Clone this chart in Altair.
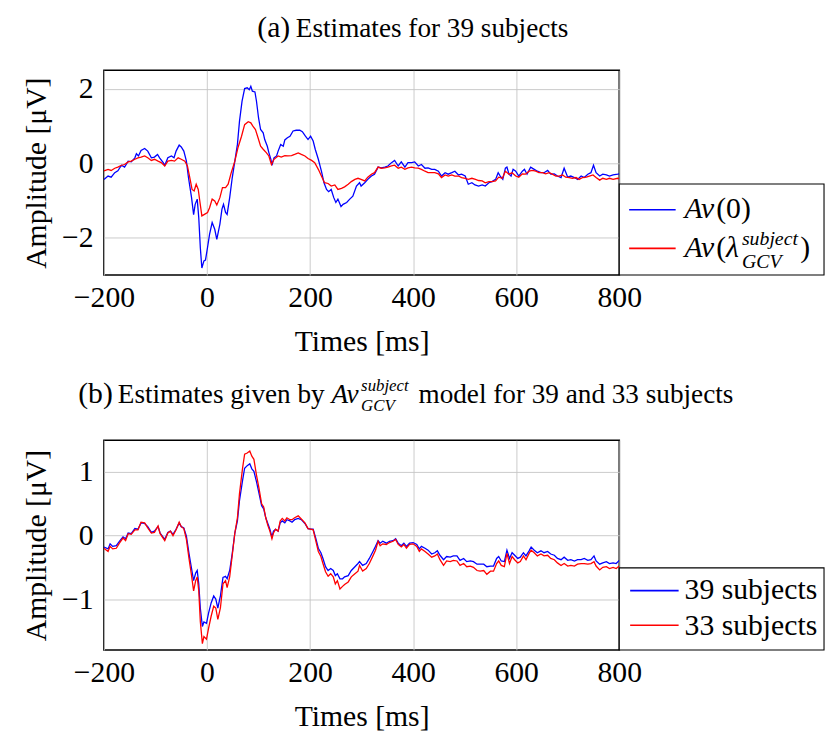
import altair as alt
import pandas as pd

# ---------------- data ----------------
# Panel (a): Av(0)  (blue)
t_a_av0 = [-200,-192,-186,-179,-173,-166,-160,-153,-147,-140,
 -137,-133,-128,-121,-115,-108,-102,-96,-92,-85,
 -82,-76,-69,-64,-60,-54,-50,-45,-40,-36,
 -30,-26,-23,-19,-16,-13,-10,-6,-3,1,
 5,10,15,19,25,29,32,36,39,44,
 49,54,59,63,68,73,78,82,85,88,
 93,96,100,104,109,112,117,120,124,126,
 130,135,138,143,148,151,156,161,167,173,
 180,185,191,196,201,206,210,216,222,227,
 232,236,241,246,250,254,260,264,271,277,
 283,290,296,
 299,306,312,319,325,332,338,345,351,358,
 364,371,377,384,390,397,403,410,416,423,
 429,436,442,449,455,462,468,475,481,488,
 494,501,507,514,520,527,534,540,547,553,560,
 565,569,574,579,582,586,590,594,599,605,
 612,616,621,628,635,641,648,654,661,667,
 674,680,687,693,700,706,713,719,726,732,
 739,745,750,755,762,768,775,781,788,797,800]
v_a_av0 = [-0.43,-0.34,-0.37,-0.25,-0.2,-0.05,-0.1,0.06,0.04,0.15,
 0.26,0.2,0.35,0.4,0.33,0.15,0.17,0.24,0.15,0.02,
 -0.05,0.15,0.2,0.15,0.33,0.49,0.44,0.33,0.06,-0.38,
 -0.92,-1.38,-1.1,-0.96,-1.46,-2.26,-2.81,-2.62,-2.6,-2.26,
 -1.9,-1.59,-1.77,-2.04,-1.63,-1.23,-1.1,-1.32,-1.37,-0.92,
 -0.38,0.06,0.51,1.13,1.67,2.01,2.03,1.98,2.07,1.94,
 1.92,1.67,1.22,0.91,0.82,0.64,0.46,0.29,0.11,-0.05,
 0.15,0.2,0.33,0.51,0.46,0.63,0.69,0.73,0.87,0.89,
 0.89,0.85,0.73,0.64,0.73,0.6,0.38,0.11,-0.21,-0.52,
 -0.7,-0.76,-0.7,-0.92,-1.05,-0.96,-1.16,-1.1,-1.05,-0.96,
 -0.88,-0.61,-0.52,
 -0.61,-0.52,-0.43,-0.34,-0.29,-0.1,-0.12,-0.1,-0.07,0.02,
 0.08,-0.07,0.04,-0.1,0.02,0.02,0.04,-0.07,-0.03,-0.13,
 -0.12,-0.16,-0.16,-0.21,-0.34,-0.25,-0.29,-0.25,-0.21,-0.31,
 -0.29,-0.34,-0.56,-0.52,-0.58,-0.61,-0.58,-0.61,-0.52,-0.49,-0.43,
 -0.25,-0.34,-0.43,-0.13,-0.1,-0.29,-0.34,-0.16,-0.21,-0.34,
 -0.21,-0.16,-0.29,-0.1,-0.16,-0.21,-0.25,-0.25,-0.19,-0.29,
 -0.28,-0.34,-0.38,-0.13,-0.37,-0.34,-0.38,-0.43,-0.34,-0.38,
 -0.29,-0.25,-0.05,-0.25,-0.34,-0.29,-0.31,-0.34,-0.31,-0.29,-0.28]

# Panel (a): Av(lambda_GCV^subject)  (red)
t_a_lam = [-200,-192,-186,-179,-173,-166,-160,-153,-147,-140,
 -134,-128,-121,-115,-108,-102,-95,-89,-82,-76,
 -69,-63,-56,-50,-43,
 -38,-34,-29,-25,-21,-17,-14,-10,-5,1,
 5,10,15,19,25,30,36,41,47,54,
 60,67,73,80,85,89,94,99,104,109,
 115,120,125,130,138,144,151,157,164,170,
 177,183,190,196,203,209,216,222,228,235,
 241,248,254,261,267,274,280,287,293,
 299,306,312,319,325,332,338,345,351,358,
 364,371,377,384,390,397,403,410,416,423,
 429,436,442,449,455,462,468,475,481,488,
 494,501,507,514,521,527,534,540,547,553,
 560,566,573,579,586,592,599,605,612,618,
 625,631,638,644,651,657,664,670,677,683,
 690,696,703,709,716,722,729,736,742,749,
 755,762,768,775,781,788,797,800]
v_a_lam = [-0.2,-0.16,-0.19,-0.13,-0.1,-0.05,-0.03,0.04,0.06,0.11,
 0.15,0.17,0.2,0.15,0.08,0.11,0.06,0.02,-0.07,0.06,
 0.08,0.06,0.15,0.11,0.06,
 -0.07,-0.34,-0.7,-0.74,-0.56,-0.7,-1.01,-1.41,-1.37,-1.32,
 -1.19,-0.96,-1.01,-1.12,-0.92,-0.65,-0.65,-0.56,-0.25,0.06,
 0.42,0.73,1.04,1.12,1.09,1.0,0.91,0.69,0.46,0.38,
 0.29,0.2,-0.03,0.11,0.2,0.17,0.21,0.2,0.21,0.24,
 0.28,0.24,0.2,0.13,0.08,0.02,-0.16,-0.34,-0.52,-0.54,
 -0.61,-0.58,-0.7,-0.67,-0.63,-0.56,-0.49,-0.43,-0.4,
 -0.43,-0.47,-0.37,-0.29,-0.25,-0.1,-0.13,-0.12,-0.1,-0.07,
 -0.05,-0.13,-0.1,-0.16,-0.12,-0.1,-0.12,-0.13,-0.16,-0.21,
 -0.25,-0.25,-0.25,-0.28,-0.38,-0.31,-0.34,-0.31,-0.34,-0.34,
 -0.38,-0.4,-0.43,-0.4,-0.43,-0.46,-0.47,-0.52,-0.49,-0.49,
 -0.47,-0.37,-0.4,-0.21,-0.29,-0.25,-0.34,-0.37,-0.28,-0.29,
 -0.21,-0.19,-0.21,-0.25,-0.25,-0.28,-0.25,-0.29,-0.34,-0.34,
 -0.31,-0.37,-0.38,-0.4,-0.38,-0.43,-0.38,-0.37,-0.34,-0.31,
 -0.38,-0.45,-0.4,-0.43,-0.4,-0.43,-0.4,-0.41]

# Panel (b): shared time grid, 39 subjects (blue) and 33 subjects (red)
t_b = [-200,-192,-188,-183,-176,-170,-163,-158,-153,-147,
 -140,-134,-128,-121,-115,-108,-102,-95,-91,-82,
 -76,-71,-66,-60,-54,-50,-45,-40,-35,-30,
 -26,-22,-19,-16,-13,-9,-6,-1,3,8,
 13,17,21,26,31,36,39,44,49,54,
 59,63,69,73,78,83,87,91,96,101,
 106,110,114,118,122,126,129,133,138,142,
 146,151,155,161,165,170,177,183,190,196,
 201,206,211,216,221,225,230,235,240,245,
 249,253,258,263,267,274,280,287,293,
 296,302,309,315,322,327,332,336,341,348,
 354,361,366,371,377,382,387,393,400,407,
 412,416,423,429,436,442,447,452,459,465,
 472,478,485,491,498,504,511,517,524,530,
 537,543,550,556,562,566,571,577,582,587,
 592,597,603,608,614,619,625,629,635,641,
 648,654,661,667,674,680,687,693,700,706,
 713,719,726,732,739,745,751,755,762,768,
 775,781,788,794,800]
v_b_39 = [-0.18,-0.21,-0.13,-0.17,-0.16,-0.09,-0.02,-0.05,0.04,0.03,
 0.11,0.1,0.2,0.19,0.14,0.05,0.07,0.14,0.04,-0.06,
 0.05,0.07,0.02,0.1,0.2,0.14,0.12,-0.01,-0.28,-0.52,
 -0.71,-0.59,-0.55,-0.76,-1.14,-1.43,-1.36,-1.38,-1.22,-1.06,
 -0.95,-1.0,-1.14,-0.95,-0.66,-0.64,-0.68,-0.55,-0.28,0.04,
 0.23,0.55,0.87,1.06,1.1,1.13,1.05,1.01,0.85,0.66,
 0.47,0.42,0.28,0.19,0.1,-0.02,0.07,0.1,0.07,0.2,
 0.23,0.2,0.25,0.23,0.21,0.25,0.27,0.25,0.19,0.11,
 0.1,0.1,-0.04,-0.2,-0.27,-0.36,-0.49,-0.55,-0.52,-0.55,
 -0.63,-0.6,-0.68,-0.68,-0.65,-0.63,-0.55,-0.49,-0.44,
 -0.41,-0.47,-0.44,-0.36,-0.25,-0.17,-0.08,-0.12,-0.09,-0.12,
 -0.09,-0.08,-0.05,-0.12,-0.16,-0.12,-0.17,-0.12,-0.11,-0.14,
 -0.21,-0.17,-0.2,-0.23,-0.29,-0.27,-0.24,-0.31,-0.38,-0.33,
 -0.34,-0.32,-0.32,-0.39,-0.36,-0.41,-0.4,-0.41,-0.45,-0.45,
 -0.45,-0.49,-0.48,-0.48,-0.36,-0.33,-0.4,-0.41,-0.23,-0.36,
 -0.27,-0.31,-0.36,-0.34,-0.27,-0.32,-0.24,-0.18,-0.23,-0.27,
 -0.24,-0.27,-0.25,-0.29,-0.31,-0.36,-0.38,-0.34,-0.39,-0.38,
 -0.4,-0.38,-0.38,-0.36,-0.39,-0.38,-0.32,-0.4,-0.45,-0.43,
 -0.41,-0.44,-0.43,-0.44,-0.39]
v_b_33 = [-0.2,-0.25,-0.17,-0.21,-0.2,-0.12,-0.04,-0.08,0.03,0.02,
 0.09,0.09,0.21,0.2,0.12,0.04,0.05,0.15,0.03,-0.08,
 0.04,0.07,0.0,0.09,0.21,0.14,0.11,-0.06,-0.36,-0.63,
 -0.87,-0.71,-0.65,-0.87,-1.35,-1.7,-1.59,-1.63,-1.46,-1.27,
 -1.11,-1.14,-1.32,-1.14,-0.76,-0.71,-0.82,-0.65,-0.31,0.04,
 0.28,0.66,1.06,1.28,1.3,1.33,1.25,1.2,0.95,0.74,
 0.5,0.45,0.28,0.16,0.07,-0.05,0.04,0.1,0.07,0.23,
 0.27,0.23,0.28,0.25,0.25,0.28,0.31,0.26,0.2,0.11,
 0.1,0.09,-0.08,-0.25,-0.33,-0.44,-0.57,-0.64,-0.6,-0.65,
 -0.76,-0.71,-0.84,-0.8,-0.77,-0.73,-0.65,-0.6,-0.56,
 -0.47,-0.56,-0.52,-0.44,-0.32,-0.23,-0.09,-0.16,-0.13,-0.14,
 -0.11,-0.09,-0.06,-0.14,-0.18,-0.14,-0.2,-0.14,-0.13,-0.17,
 -0.25,-0.21,-0.25,-0.29,-0.34,-0.32,-0.29,-0.38,-0.47,-0.4,
 -0.41,-0.39,-0.4,-0.47,-0.44,-0.49,-0.48,-0.5,-0.55,-0.56,
 -0.55,-0.61,-0.56,-0.56,-0.44,-0.4,-0.47,-0.49,-0.28,-0.44,
 -0.33,-0.38,-0.43,-0.41,-0.32,-0.38,-0.28,-0.23,-0.27,-0.32,
 -0.29,-0.32,-0.31,-0.36,-0.38,-0.43,-0.47,-0.44,-0.48,-0.47,
 -0.48,-0.45,-0.44,-0.44,-0.45,-0.44,-0.41,-0.48,-0.54,-0.5,
 -0.49,-0.52,-0.5,-0.52,-0.48]

x_ticks = [-200, 0, 200, 400, 600, 800]
y_ticks_a = [-2, 0, 2]
y_ticks_b = [-1, 0, 1]
series_a = ["Av(0)", "Av(λ_GCV^subject)"]
series_b = ["39 subjects", "33 subjects"]

# ---------------- styling ----------------
FONT = "Liberation Serif"
BLUE = "#0000ff"
RED = "#ff0000"
W = 521
H_A = 207
H_B = 212
AX = 30      # axis label / title size
LG = 30      # legend text size
TT = 27.5    # title text size


def series_frame(t, v, name):
    n = min(len(t), len(v))
    return pd.DataFrame({"t": t[:n], "v": v[:n], "s": name})


def one_row():
    return alt.Data(values=[{"k": 1}])


def txt(s, x, y, size, italic=False):
    return alt.Chart(alt.Data(values=[{"s": s}])).mark_text(
        align="left", baseline="alphabetic", font=FONT, fontSize=size,
        fontStyle="italic" if italic else "normal", color="black",
    ).encode(x=alt.value(x), y=alt.value(y), text="s:N")


def sym(color, x1, x2, y):
    return alt.Chart(one_row()).mark_rule(color=color, strokeWidth=1.6).encode(
        x=alt.value(x1), x2=alt.value(x2), y=alt.value(y))


def box(x1, x2, y1, y2):
    return alt.Chart(one_row()).mark_rect(
        fill="white", stroke="black", strokeWidth=1.1).encode(
        x=alt.value(x1), x2=alt.value(x2), y=alt.value(y1), y2=alt.value(y2))


def lines(df, domain_y, yticks, names):
    return alt.Chart(df).mark_line(strokeWidth=1.3, clip=True).encode(
        x=alt.X("t:Q", scale=alt.Scale(domain=[-200, 800], nice=False, zero=False, padding=0),
                axis=alt.Axis(values=x_ticks, title="Times [ms]", format="d", labelFlush=False)),
        y=alt.Y("v:Q", scale=alt.Scale(domain=domain_y, nice=False, zero=False, padding=0),
                axis=alt.Axis(values=yticks, title="Amplitude [μV]", format="d", labelFlush=False)),
        color=alt.Color("s:N", scale=alt.Scale(domain=names, range=[BLUE, RED]),
                        legend=None),
    )


df_a = pd.concat([series_frame(t_a_av0, v_a_av0, series_a[0]),
                  series_frame(t_a_lam, v_a_lam, series_a[1])])
df_b = pd.concat([series_frame(t_b, v_b_39, series_b[0]),
                  series_frame(t_b, v_b_33, series_b[1])])

BOX_R = 728

# ---- panel (a)
panel_a = alt.layer(
    lines(df_a, [-3, 2.5], y_ticks_a, series_a),
    # title
    txt("(a)", 155, -34, 30),
    txt("Estimates for 39 subjects", 194, -34, TT),
    # legend (box bottom sits on the plot's bottom edge)
    box(W, BOX_R, H_A - 92, H_A),
    sym(BLUE, 531, 578, H_A - 66),
    sym(RED, 531, 578, H_A - 27),
    txt("Av", 587, H_A - 58, LG, italic=True),
    txt("(0)", 619, H_A - 58, LG),
    txt("Av", 587, H_A - 18, LG, italic=True),
    txt("(", 619, H_A - 18, LG),
    txt("λ", 629, H_A - 18, LG, italic=True),
    txt("subject", 645, H_A - 30, 20, italic=True),
    txt("GCV", 645, H_A - 7, 20, italic=True),
    txt(")", 704, H_A - 18, LG),
).properties(width=W, height=H_A)

# ---- panel (b)
panel_b = alt.layer(
    lines(df_b, [-1.8, 1.5], y_ticks_b, series_b),
    # title
    txt("(b)", -26, -38, 30),
    txt("Estimates given by", 14, -38, TT),
    txt("Av", 230, -38, TT, italic=True),
    txt("subject", 260, -50, 17, italic=True),
    txt("GCV", 260, -30, 17, italic=True),
    txt("model for 39 and 33 subjects", 318, -38, TT),
    # legend
    box(W, BOX_R, H_B - 83, H_B),
    sym(BLUE, 532, 581, H_B - 60),
    sym(RED, 532, 581, H_B - 25),
    txt("39 subjects", 587, H_B - 51, LG),
    txt("33 subjects", 587, H_B - 15, LG),
).properties(width=W, height=H_B)

chart = alt.vconcat(panel_a, panel_b, spacing=19).properties(
    padding={"left": 13, "top": 0, "right": 0, "bottom": 0},
    background="white",
).configure(
    font=FONT,
).configure_view(
    stroke="black", strokeWidth=1.6,
).configure_axis(
    labelFont=FONT, titleFont=FONT, labelFontSize=AX, titleFontSize=AX,
    titleFontWeight="normal", labelColor="black", titleColor="black",
    grid=True, gridColor="#c4c4c4", gridWidth=0.9, ticks=False, domain=False,
).configure_axisX(
    labelPadding=8, titlePadding=14,
).configure_axisY(
    labelPadding=11, titlePadding=10,
)

chart.save("out.html", embed_options={"renderer": "svg", "actions": False})
